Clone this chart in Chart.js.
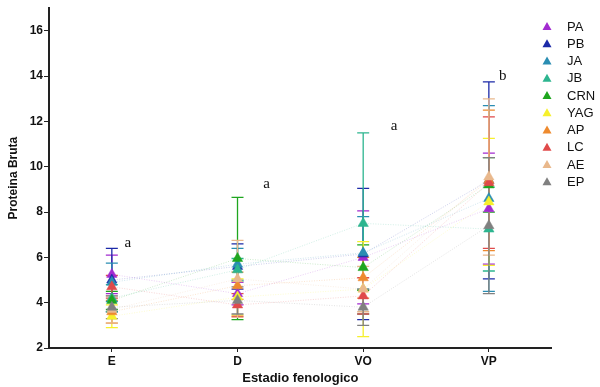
<!DOCTYPE html>
<html>
<head>
<meta charset="utf-8">
<script src="https://cdn.jsdelivr.net/npm/chart.js@4"></script>
<style>
html,body{margin:0;padding:0;background:#fff;}
#wrap{width:600px;height:387px;position:relative;}
</style>
</head>
<body>
<div id="wrap"><canvas id="c" width="600" height="387"></canvas></div>
<script>
// ---- data ----
const stages = ['E', 'D', 'VO', 'VP'];
const seriesNames = ['PA', 'PB', 'JA', 'JB', 'CRN', 'YAG', 'AP', 'LC', 'AE', 'EP'];
const seriesColors = ['#a22bd0', '#1c2aa8', '#2a8db2', '#2db58f', '#1fa61f', '#f6f02c', '#ee8a2e', '#e04a4a', '#e9b88c', '#808080'];

const PA  = [5.25, 4.40, 6.00, 8.15];
const PB  = [5.00, 5.60, 6.15, 9.40];
const JA  = [4.90, 5.70, 6.20, 8.60];
const JB  = [4.20, 5.45, 7.50, 7.25];
const CRN = [4.10, 5.95, 5.55, 9.20];
const YAG = [3.40, 4.25, 4.60, 8.45];
const AP  = [3.60, 4.75, 5.10, 9.40];
const LC  = [4.70, 3.90, 4.30, 9.30];
const AE  = [3.70, 5.05, 4.60, 9.55];
const EP  = [3.80, 4.10, 3.80, 7.40];

const PA_sd  = [0.85, 0.50, 2.05, 2.45];
const PB_sd  = [1.40, 1.00, 2.90, 4.35];
const JA_sd  = [0.85, 0.70, 1.60, 4.10];
const JB_sd  = [0.60, 0.50, 4.00, 1.85];
const CRN_sd = [0.40, 2.70, 1.00, 1.20];
const YAG_sd = [0.50, 0.80, 2.10, 2.80];
const AP_sd  = [0.50, 0.60, 0.90, 3.10];
const LC_sd  = [0.50, 0.50, 0.80, 2.90];
const AE_sd  = [0.60, 1.70, 1.00, 3.45];
const EP_sd  = [0.50, 0.60, 0.80, 3.00];

const yTicks = [2, 4, 6, 8, 10, 12, 14, 16];
const sigLetters = ['a', 'a', 'a', 'b'];
const sigLetterY = [6.62, 9.23, 11.78, 14.01];

// ---- build ----
const means = [PA, PB, JA, JB, CRN, YAG, AP, LC, AE, EP];
const sds = [PA_sd, PB_sd, JA_sd, JB_sd, CRN_sd, YAG_sd, AP_sd, LC_sd, AE_sd, EP_sd];
const letterDx = [16, 29, 31, 14];

function hexA(h, a) {
  const r = parseInt(h.slice(1,3),16), g = parseInt(h.slice(3,5),16), b = parseInt(h.slice(5,7),16);
  return 'rgba(' + r + ',' + g + ',' + b + ',' + a + ')';
}

const datasets = seriesNames.map((n, i) => ({
  label: n,
  data: means[i],
  errors: sds[i],
  borderColor: hexA(seriesColors[i], 0.22),
  borderWidth: 1,
  borderDash: [1, 1.5],
  backgroundColor: seriesColors[i],
  pointStyle: 'triangle',
  pointRadius: 6,
  pointBackgroundColor: seriesColors[i],
  pointBorderColor: seriesColors[i],
  pointBorderWidth: 0.5,
  tension: 0,
  fill: false,
  order: -i
}));

const errorBars = {
  id: 'errorBars',
  beforeDatasetsDraw(chart) {
    const ctx = chart.ctx, x = chart.scales.x, y = chart.scales.y;
    ctx.save();
    chart.data.datasets.forEach((ds, di) => {
      ctx.strokeStyle = seriesColors[di];
      ctx.lineWidth = 1.3;
      ds.data.forEach((v, i) => {
        const e = ds.errors[i];
        const px = x.getPixelForValue(i);
        const top = y.getPixelForValue(v + e), bot = y.getPixelForValue(v - e);
        ctx.beginPath();
        ctx.moveTo(px, top); ctx.lineTo(px, bot);
        ctx.moveTo(px - 6, top); ctx.lineTo(px + 6, top);
        ctx.moveTo(px - 6, bot); ctx.lineTo(px + 6, bot);
        ctx.stroke();
      });
    });
    ctx.restore();
  }
};

const extras = {
  id: 'extras',
  afterDraw(chart) {
    const ctx = chart.ctx, x = chart.scales.x, y = chart.scales.y;
    ctx.save();
    ctx.fillStyle = '#111';
    ctx.font = '15px "Liberation Serif", "Times New Roman", serif';
    ctx.textAlign = 'center';
    ctx.textBaseline = 'middle';
    sigLetters.forEach((l, i) => {
      ctx.fillText(l, x.getPixelForValue(i) + letterDx[i], y.getPixelForValue(sigLetterY[i]));
    });
    ctx.font = '13px "Liberation Sans", Arial, sans-serif';
    ctx.textAlign = 'left';
    seriesNames.forEach((n, i) => {
      const cy = 26.5 + i * 17.25;
      const cx = 547;
      ctx.fillStyle = seriesColors[i];
      ctx.beginPath();
      ctx.moveTo(cx, cy - 4.5);
      ctx.lineTo(cx + 4.5, cy + 3.5);
      ctx.lineTo(cx - 4.5, cy + 3.5);
      ctx.closePath();
      ctx.fill();
      ctx.fillStyle = '#111';
      ctx.fillText(n, 567, cy + 0.5);
    });
    ctx.restore();
  }
};

new Chart(document.getElementById('c'), {
  type: 'line',
  data: { labels: stages, datasets },
  plugins: [errorBars, extras],
  options: {
    responsive: false,
    animation: false,
    layout: { padding: { top: 3, right: 48.3, left: 0, bottom: 0 } },
    plugins: { legend: { display: false }, tooltip: { enabled: false } },
    scales: {
      x: {
        type: 'category',
        offset: true,
        grid: { drawOnChartArea: false, tickLength: 4, color: '#222', offset: false },
        border: { display: true, color: '#222', width: 2 },
        ticks: { color: '#111', font: { family: '"Liberation Sans", Arial, sans-serif', size: 12, weight: 'bold' }, padding: 2 },
        title: { display: true, text: 'Estadio fenologico', color: '#111',
          font: { family: '"Liberation Sans", Arial, sans-serif', size: 13, weight: 'bold' }, padding: { top: 0, bottom: 1 } },
        afterFit(s) { s.height = 39; }
      },
      y: {
        min: 2, max: 17,
        afterBuildTicks(s) { s.ticks = yTicks.map(v => ({ value: v })); },
        grid: { drawOnChartArea: false, tickLength: 5, color: '#222' },
        border: { display: true, color: '#222', width: 2 },
        ticks: { color: '#111', font: { family: '"Liberation Sans", Arial, sans-serif', size: 12, weight: 'bold' }, padding: 1 },
        title: { display: true, text: 'Proteina Bruta', color: '#111',
          font: { family: '"Liberation Sans", Arial, sans-serif', size: 12, weight: 'bold' }, padding: { top: 6, bottom: 0 } },
        afterFit(s) { s.width = 49; }
      }
    }
  }
});
</script>
</body>
</html>
